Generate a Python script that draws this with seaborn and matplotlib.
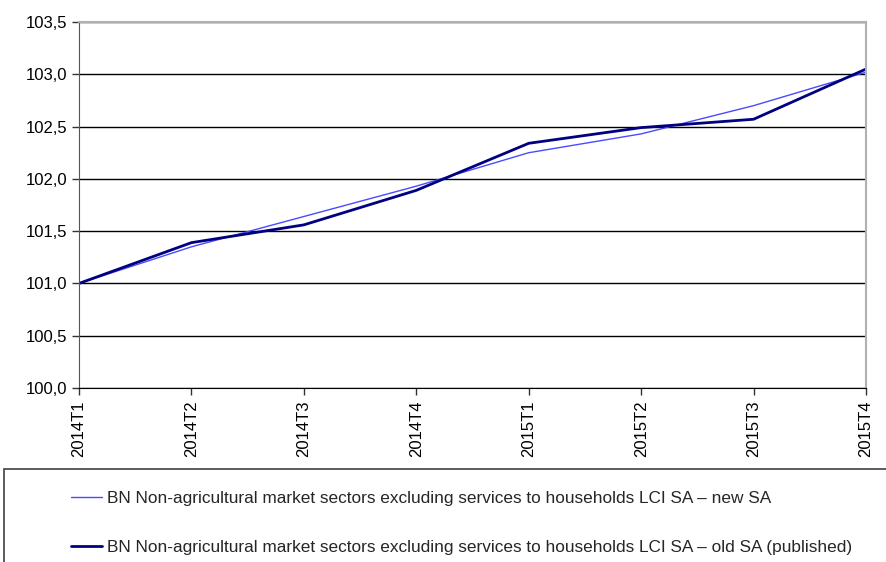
import numpy as np
import pandas as pd
import seaborn as sns
from matplotlib import pyplot as plt
from matplotlib.patches import Rectangle
from matplotlib.ticker import FuncFormatter

# quarters and the two seasonally adjusted series
quarters = ['2014T1', '2014T2', '2014T3', '2014T4', '2015T1', '2015T2', '2015T3', '2015T4']
new_sa = [101.00, 101.35, 101.64, 101.93, 102.25, 102.43, 102.70, 103.02]
old_sa = [101.00, 101.39, 101.56, 101.89, 102.34, 102.49, 102.57, 103.05]

lab_new = 'BN Non-agricultural market sectors excluding services to households LCI SA \u2013 new SA'
lab_old = 'BN Non-agricultural market sectors excluding services to households LCI SA \u2013 old SA (published)'

df = pd.concat([
    pd.DataFrame({'quarter': quarters, 'value': new_sa, 'series': lab_new}),
    pd.DataFrame({'quarter': quarters, 'value': old_sa, 'series': lab_old}),
])

sns.set_style('white')
plt.rcParams['font.family'] = ['Liberation Sans', 'DejaVu Sans']

fig = plt.figure(figsize=(8.86, 5.62), dpi=100)
ax = fig.add_axes([79 / 886, 1 - 388 / 562, (866 - 79) / 886, (388 - 22) / 562])

sns.lineplot(data=df, x='quarter', y='value', hue='series', size='series',
             palette={lab_new: '#4a4aff', lab_old: '#000080'},
             sizes={lab_new: 1.0, lab_old: 2.0}, sort=False, ax=ax, legend=False)

ax.set_xlim(0, len(quarters) - 1)
ax.set_ylim(100, 103.5)
ax.set_yticks(np.arange(100, 103.51, 0.5))
ax.yaxis.set_major_formatter(FuncFormatter(lambda v, p: f'{v:.1f}'.replace('.', ',')))
ax.set_xticks(range(len(quarters)))
ax.set_xticklabels(quarters, rotation=90)
ax.set_xlabel('')
ax.set_ylabel('')
ax.grid(axis='y', color='black', linewidth=1)
ax.tick_params(axis='both', labelsize=12, direction='out', length=5, width=1,
               colors='#333333', labelcolor='black', bottom=True, left=True)
ax.tick_params(axis='x', pad=4)
for side in ['top', 'right']:
    ax.spines[side].set_color('#b0b0b0')
    ax.spines[side].set_linewidth(1.5)
ax.spines['left'].set_color('#555555')
ax.spines['bottom'].set_color('black')

# legend box running off the figure edge
fig.patches.append(Rectangle((4 / 886, -0.05), 1.0, 1 - 469 / 562 + 0.05,
                             transform=fig.transFigure, fill=False,
                             edgecolor='#404040', linewidth=1.2))
handles = [plt.Line2D([], [], color='#4a4aff', lw=1.0),
           plt.Line2D([], [], color='#000080', lw=2.0)]
fig.legend(handles, [lab_new, lab_old], loc='upper left',
           bbox_to_anchor=(55 / 886, 1 - 475 / 562), frameon=False,
           fontsize=12.4, labelspacing=2.0, handlelength=1.8, handletextpad=0.3)

fig.savefig('out.png', dpi=100)
